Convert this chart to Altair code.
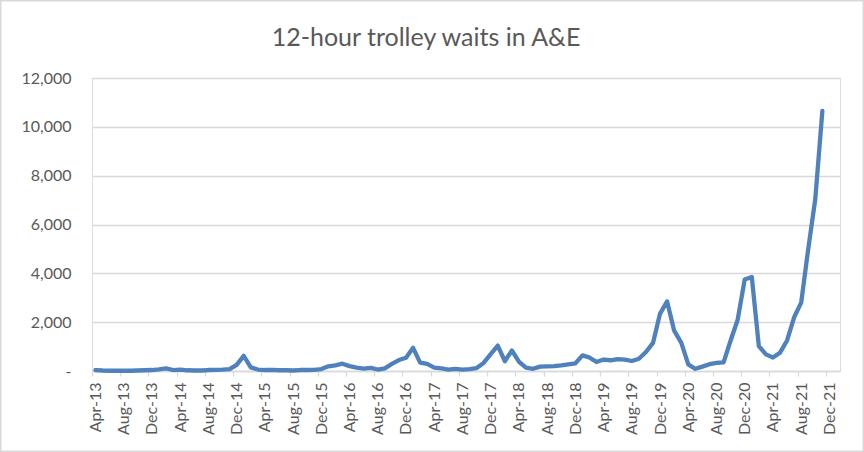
import altair as alt
import pandas as pd

# Monthly 12-hour trolley waits, Apr-13 .. Nov-21
waits = [
    # 2013: Apr..Dec
    40, 20, 10, 10, 10, 10, 20, 30, 40,
    # 2014: Jan..Dec
    70, 110, 40, 60, 30, 20, 20, 40, 50, 60, 80, 250,
    # 2015: Jan..Dec
    620, 150, 60, 40, 50, 30, 30, 20, 40, 40, 50, 80,
    # 2016: Jan..Dec
    190, 230, 300, 200, 140, 100, 130, 60, 110, 290, 450, 540,
    # 2017: Jan..Dec
    950, 340, 290, 140, 110, 60, 90, 60, 80, 120, 330, 690,
    # 2018: Jan..Dec
    1040, 400, 840, 380, 140, 90, 180, 190, 200, 230, 270, 310,
    # 2019: Jan..Dec
    640, 550, 370, 470, 440, 490, 470, 410, 500, 780, 1150, 2350,
    # 2020: Jan..Dec
    2850, 1650, 1160, 270, 90, 180, 280, 330, 350, 1250, 2100, 3750,
    # 2021: Jan..Nov
    3850, 1020, 680, 550, 750, 1250, 2200, 2800, 5000, 7050, 10650,
]

# Category-axis labels, one every 4 months from Apr-13
tick_labels = [
    "Apr-13", "Aug-13", "Dec-13", "Apr-14", "Aug-14", "Dec-14", "Apr-15",
    "Aug-15", "Dec-15", "Apr-16", "Aug-16", "Dec-16", "Apr-17", "Aug-17",
    "Dec-17", "Apr-18", "Aug-18", "Dec-18", "Apr-19", "Aug-19", "Dec-19",
    "Apr-20", "Aug-20", "Dec-20", "Apr-21", "Aug-21", "Dec-21",
]

y_ticks = [0, 2000, 4000, 6000, 8000, 10000, 12000]

title_text = "12-hour trolley waits in A&E"

n_slots = 106  # months shown on the category axis (Apr-13 .. Jan-22)

df = pd.DataFrame({"idx": list(range(len(waits))), "waits": waits})

label_array = "[" + ",".join("'" + s + "'" for s in tick_labels) + "]"

FONT = "Lato"
GREY = "#595959"
LIGHT = "#D9D9D9"

W, H = 748, 293
PAD = {"left": 92, "top": 78, "right": 24, "bottom": 81}

line = alt.Chart(df).transform_calculate(
    pos="datum.idx + 0.5"
).mark_line(
    color="#4F81BD", strokeWidth=4.3, strokeJoin="round", strokeCap="round",
    interpolate="linear",
).encode(
    x=alt.X(
        "pos:Q",
        scale=alt.Scale(domain=[0, n_slots], nice=False, zero=False),
        axis=alt.Axis(
            values=list(range(0, 4 * len(tick_labels), 4)),
            labelExpr=label_array + "[round(datum.value / 4)]",
            labelAngle=-90, labelAlign="right", labelBaseline="middle",
            labelOffset=3.5, labelPadding=6,
            labelFont=FONT, labelFontSize=16, labelColor=GREY,
            labelOverlap=False, labelBound=False, labelFlush=False,
            grid=False, domainColor=LIGHT, domainWidth=1.3,
            tickColor=LIGHT, tickSize=5, tickWidth=1.3, title=None,
        ),
    ),
    y=alt.Y(
        "waits:Q",
        scale=alt.Scale(domain=[0, 12000], nice=False),
        axis=alt.Axis(
            values=y_ticks,
            labelExpr="datum.value == 0 ? '-\u00a0\u00a0\u00a0' : format(datum.value, ',')",
            labelFont=FONT, labelFontSize=16, labelColor=GREY, labelPadding=21,
            grid=True, gridColor=LIGHT, gridWidth=1.3,
            domain=False, ticks=False, title=None,
        ),
    ),
)

one = pd.DataFrame({"title": [title_text]})

frame = alt.Chart(one).mark_rect(
    fill=None, stroke=LIGHT, strokeWidth=1.5
).encode(
    x=alt.value(-PAD["left"] + 0.75),
    x2=alt.value(W + PAD["right"] - 0.75),
    y=alt.value(-PAD["top"] + 0.75),
    y2=alt.value(H + PAD["bottom"] - 0.75),
)

title = alt.Chart(one).mark_text(
    font=FONT, fontSize=25, fontWeight=400, color=GREY,
    align="center", baseline="alphabetic",
).encode(
    text="title:N",
    x=alt.value(426 - PAD["left"]),
    y=alt.value(46 - PAD["top"]),
)

chart = alt.layer(frame, title, line).properties(
    width=W, height=H,
    padding=PAD,
    autosize=alt.AutoSizeParams(type="none"),
).configure_view(stroke=None).configure(background="white")

chart.save("out.html", embed_options={"renderer": "svg", "actions": False})
